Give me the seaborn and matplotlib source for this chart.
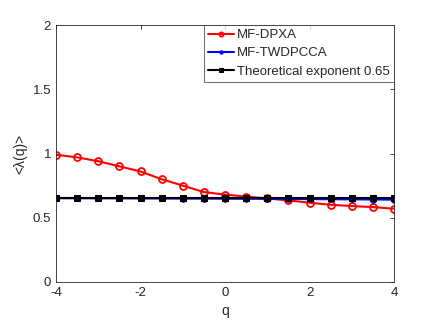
import numpy as np
import pandas as pd
import matplotlib
matplotlib.use("Agg")
import matplotlib.pyplot as plt
import seaborn as sns

# Data
q = [-4, -3.5, -3, -2.5, -2, -1.5, -1, -0.5, 0, 0.5, 1, 1.5, 2, 2.5, 3, 3.5, 4]
mf_dpxa = [0.99, 0.97, 0.94, 0.90, 0.86, 0.80, 0.75, 0.70, 0.68, 0.665, 0.65,
           0.635, 0.617, 0.601, 0.591, 0.583, 0.570]
mf_twdpcca = [0.652, 0.652, 0.651, 0.651, 0.650, 0.650, 0.649, 0.649, 0.648, 0.648,
              0.647, 0.646, 0.645, 0.644, 0.643, 0.642, 0.641]
theory = [0.65] * len(q)

sns.set_style("white")
plt.rcParams['font.family'] = ['Liberation Sans', 'DejaVu Sans']
plt.rcParams['axes.unicode_minus'] = False

fig = plt.figure(figsize=(4.36, 3.25), dpi=100)
ax = fig.add_axes([56 / 436, 1 - 282 / 325, 338 / 436, 257 / 325])

df = pd.DataFrame({'q': q, 'dpxa': mf_dpxa, 'tw': mf_twdpcca, 'th': theory})

sns.lineplot(data=df, x='q', y='dpxa', ax=ax, color='red', lw=1.5, marker='o',
             markersize=5, markerfacecolor='none', markeredgecolor='red',
             markeredgewidth=1.3, label='MF-DPXA')
sns.lineplot(data=df, x='q', y='tw', ax=ax, color='blue', lw=1.5, marker='o',
             markersize=4, markerfacecolor='blue', markeredgecolor='blue',
             label='MF-TWDPCCA')
sns.lineplot(data=df, x='q', y='th', ax=ax, color='black', lw=1.5, marker='s',
             markersize=5, markerfacecolor='black', markeredgecolor='black',
             label='Theoretical exponent 0.65')

ax.set_xlim(-4, 4)
ax.set_ylim(0, 2)
ax.set_xticks([-4, -2, 0, 2, 4])
ax.set_yticks([0, 0.5, 1, 1.5, 2])
ax.set_yticklabels(['0', '0.5', '1', '1.5', '2'])
ax.set_xlabel('q', fontsize=10, color='#262626')
ax.set_ylabel('<\u03bb(q)>', fontsize=10, color='#262626')

for s in ax.spines.values():
    s.set_color('#262626')
    s.set_linewidth(0.6)
ax.tick_params(direction='in', top=True, right=True, length=3, width=0.6,
               labelsize=9.5, colors='#262626')

leg = ax.legend(loc='upper right', fontsize=9.5, frameon=True, fancybox=False,
                borderpad=0.3, labelspacing=0.45, handlelength=2.0,
                handletextpad=0.25, borderaxespad=0, markerscale=0.6)
leg.get_frame().set_edgecolor('#262626')
leg.get_frame().set_linewidth(0.6)

fig.savefig('out.png', dpi=100)
